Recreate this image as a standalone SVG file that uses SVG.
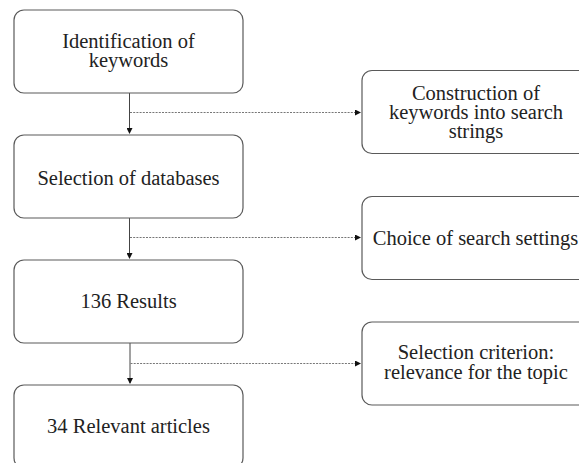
<svg xmlns="http://www.w3.org/2000/svg" width="579" height="463" viewBox="0 0 579 463">
<style>
.box{fill:#fff;stroke:#5a5a5a;stroke-width:1.2}
text{font-size:20.5px;fill:#222;text-anchor:middle}
.solid{stroke:#444;stroke-width:1;fill:none}
.dot{stroke:#777;stroke-width:1;stroke-dasharray:2 1.2;fill:none}
</style>
<defs>
<marker id="ah" markerWidth="6" markerHeight="6" refX="5" refY="3" orient="auto" markerUnits="userSpaceOnUse">
<path d="M0,0 L6,3 L0,6 Z" fill="#111"/>
</marker>
</defs>
<rect width="579" height="463" fill="#fff"/>
<g id="connectors">
<line class="solid" x1="129.5" y1="93" x2="129.5" y2="133" marker-end="url(#ah)"/>
<line class="dot" x1="130" y1="112.5" x2="360" y2="112.5" marker-end="url(#ah)"/>
<line class="solid" x1="129.5" y1="218" x2="129.5" y2="258" marker-end="url(#ah)"/>
<line class="dot" x1="130" y1="237.5" x2="360" y2="237.5" marker-end="url(#ah)"/>
<line class="solid" x1="130" y1="343" x2="130" y2="383" marker-end="url(#ah)"/>
<line class="dot" x1="130.5" y1="363.5" x2="360" y2="363.5" marker-end="url(#ah)"/>
</g>
<g id="n1">
<rect class="box" x="14" y="10" width="229" height="83" rx="10"/>
<text x="128.5" y="48" font-family="Liberation Serif">Identification of</text>
<text x="128.5" y="67" font-family="Liberation Serif">keywords</text>
</g>
<g id="n2">
<rect class="box" x="14" y="135" width="229" height="83" rx="10"/>
<text x="128.5" y="185" font-family="Times New Roman">Selection of databases</text>
</g>
<g id="n3">
<rect class="box" x="14" y="260" width="229" height="83" rx="10"/>
<text x="128.5" y="307.5" font-family="Liberation Serif">136 Results</text>
</g>
<g id="n4">
<rect class="box" x="14" y="385" width="229" height="83" rx="10"/>
<text x="128.5" y="433" font-family="Liberation Serif">34 Relevant articles</text>
</g>
<g id="r1">
<rect class="box" x="362" y="70.5" width="229" height="83" rx="10"/>
<text x="476" y="99.5" font-family="Liberation Serif">Construction of</text>
<text x="476" y="118.5" font-family="Liberation Serif">keywords into search</text>
<text x="476" y="137.5" font-family="Liberation Serif">strings</text>
</g>
<g id="r2">
<rect class="box" x="362" y="196.5" width="229" height="83" rx="10"/>
<text x="475.5" y="245" font-family="Liberation Serif">Choice of search settings</text>
</g>
<g id="r3">
<rect class="box" x="362" y="322" width="229" height="83" rx="10"/>
<text x="476" y="359" font-family="Liberation Serif">Selection criterion:</text>
<text x="476" y="378.5" font-family="Liberation Serif">relevance for the topic</text>
</g>
</svg>
